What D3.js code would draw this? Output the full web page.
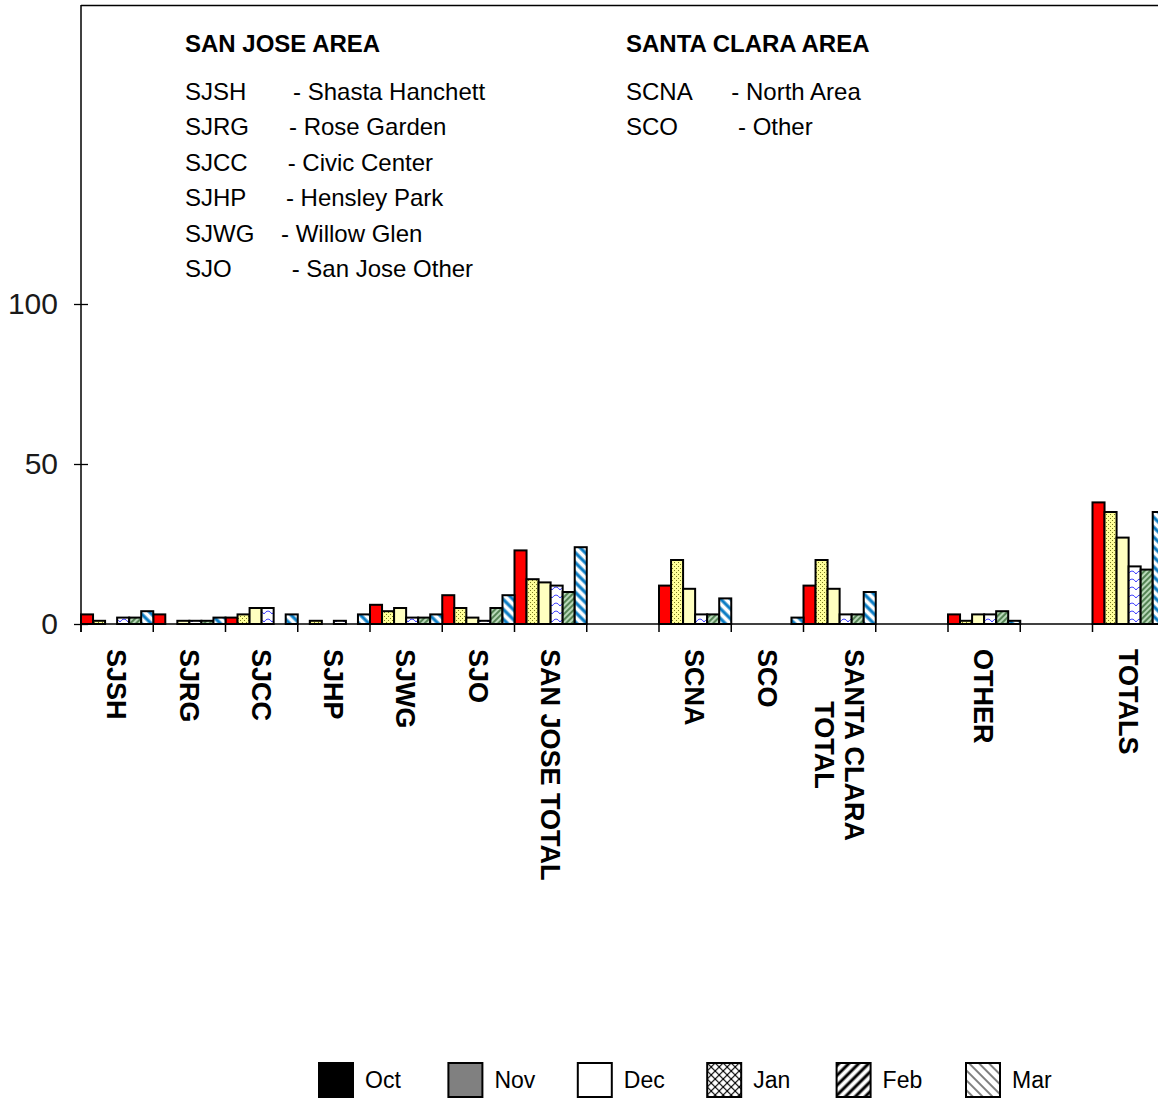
<!DOCTYPE html>
<html>
<head>
<meta charset="utf-8">
<script src="https://cdn.jsdelivr.net/npm/d3@7"></script>
<style>
  body { margin: 0; background: #fff; }
  svg { display: block; font-family: "Liberation Sans", Arial, sans-serif; }
</style>
</head>
<body>
<svg id="chart" width="1158" height="1099"></svg>
<script>
// kategorije i vrijednosti po mjesecima (prazne kategorije = razmak)
const categories = ["SJSH", "SJRG", "SJCC", "SJHP", "SJWG", "SJO", "SAN JOSE TOTAL", "",
    "SCNA", "SCO", "SANTA CLARA\nTOTAL", "", "OTHER", "", "TOTALS"];
const months = ["Oct", "Nov", "Dec", "Jan", "Feb", "Mar"];
const oct = [3, 3, 2, 0, 6, 9, 23, 0, 12, 0, 12, 0, 3, 0, 38];
const nov = [1, 0, 3, 1, 4, 5, 14, 0, 20, 0, 20, 0, 1, 0, 35];
const dec = [0, 1, 5, 0, 5, 2, 13, 0, 11, 0, 11, 0, 3, 0, 27];
const jan = [2, 1, 5, 1, 2, 1, 12, 0, 3, 0, 3, 0, 3, 0, 18];
const feb = [2, 1, 0, 0, 2, 5, 10, 0, 3, 0, 3, 0, 4, 0, 17];
const mar = [4, 2, 3, 3, 3, 9, 24, 0, 8, 2, 10, 0, 1, 0, 35];
const yTicks = [0, 50, 100];

const sanJoseHeader = "SAN JOSE AREA";
const sanJoseLines = ["SJSH       - Shasta Hanchett", "SJRG      - Rose Garden", "SJCC      - Civic Center",
    "SJHP      - Hensley Park", "SJWG    - Willow Glen", "SJO         - San Jose Other"];
const santaClaraHeader = "SANTA CLARA AREA";
const santaClaraLines = ["SCNA      - North Area", "SCO         - Other"];

const series = [oct, nov, dec, jan, feb, mar];

const svg = d3.select('#chart');
const defs = svg.append('defs');

// uzorci za stupce
function pattern(id, size, bg, angle) {
    const p = defs.append('pattern')
        .attr('id', id)
        .attr('patternUnits', 'userSpaceOnUse')
        .attr('width', size)
        .attr('height', size);
    if (angle) p.attr('patternTransform', `rotate(${angle})`);
    p.append('rect').attr('width', size).attr('height', size).attr('fill', bg);
    return p;
}

const pNov = pattern('pNov', 4, '#ffff99');
pNov.append('rect').attr('x', 0).attr('y', 0).attr('width', 1).attr('height', 1).attr('fill', '#7a7a20');
pNov.append('rect').attr('x', 2).attr('y', 2).attr('width', 1).attr('height', 1).attr('fill', '#7a7a20');

const pJan = pattern('pJan', 8, '#ffffff');
pJan.append('path').attr('d', 'M0,6 Q4,0 8,6').attr('fill', 'none').attr('stroke', '#4040ff').attr('stroke-width', 1);

const pFeb = pattern('pFeb', 4, '#b8d8b8', 45);
pFeb.append('line').attr('x1', 1).attr('y1', 0).attr('x2', 1).attr('y2', 4).attr('stroke', '#3c6e3c').attr('stroke-width', 1.6);

const pMar = pattern('pMar', 7, '#ffffff', -45);
pMar.append('line').attr('x1', 2).attr('y1', 0).attr('x2', 2).attr('y2', 7).attr('stroke', '#0a7cc4').attr('stroke-width', 3.2);

// legenda (crno-bijeli uzorci)
const lJan = pattern('lJan', 8, '#ffffff');
lJan.append('path').attr('d', 'M0,0 L8,8 M8,0 L0,8').attr('stroke', '#000').attr('stroke-width', 1.2);
const lFeb = pattern('lFeb', 7, '#ffffff', 45);
lFeb.append('line').attr('x1', 2).attr('y1', 0).attr('x2', 2).attr('y2', 7).attr('stroke', '#000').attr('stroke-width', 3);
const lMar = pattern('lMar', 7, '#ffffff', -45);
lMar.append('line').attr('x1', 2).attr('y1', 0).attr('x2', 2).attr('y2', 7).attr('stroke', '#000').attr('stroke-width', 1);

const barFills = ['#ff0000', 'url(#pNov)', '#ffffc0', 'url(#pJan)', 'url(#pFeb)', 'url(#pMar)'];
const legendFills = ['#000000', '#808080', '#ffffff', 'url(#lJan)', 'url(#lFeb)', 'url(#lMar)'];

const axisX = 81;
const x = d3.scaleBand()
    .domain(d3.range(categories.length))
    .range([axisX, axisX + categories.length * 72.25])
    .padding(0);

const xm = d3.scaleBand()
    .domain(months)
    .range([0, x.bandwidth()])
    .padding(0);

const y = d3.scaleLinear()
    .domain([0, 100])
    .range([624, 304]);

// okvir: gornja linija
svg.append('line')
    .attr('x1', axisX).attr('x2', 1158)
    .attr('y1', 5.5).attr('y2', 5.5)
    .attr('stroke', '#000').attr('stroke-width', 1.5);

// os y
const yAxis = svg.append('g')
    .attr('transform', `translate(${axisX},0)`)
    .call(d3.axisLeft(y).tickValues(yTicks).tickSize(7).tickPadding(16));
yAxis.select('.domain').remove();
yAxis.selectAll('.tick line').attr('x1', 7).attr('stroke', '#000').attr('stroke-width', 1.3);
yAxis.selectAll('.tick text')
    .attr('font-size', 30)
    .attr('font-family', '"Liberation Sans", Arial, sans-serif')
    .attr('fill', '#1a1a1a');

svg.append('line')
    .attr('x1', axisX).attr('x2', axisX)
    .attr('y1', 5).attr('y2', y(0) + 8)
    .attr('stroke', '#000').attr('stroke-width', 1.5);

// stupci
const bars = svg.append('g');
series.forEach((vals, si) => {
    bars.selectAll(null)
        .data(vals.map((v, i) => ({ i, v })).filter(d => d.v > 0))
        .enter()
        .append('rect')
        .attr('x', d => x(d.i) + xm(months[si]))
        .attr('y', d => y(d.v))
        .attr('width', xm.bandwidth())
        .attr('height', d => y(0) - y(d.v))
        .attr('fill', barFills[si])
        .attr('stroke', '#000')
        .attr('stroke-width', 2);
});

// os x
svg.append('line')
    .attr('x1', axisX).attr('x2', 1158)
    .attr('y1', y(0)).attr('y2', y(0))
    .attr('stroke', '#000').attr('stroke-width', 1.5);

svg.append('g').selectAll('line')
    .data(d3.range(categories.length + 1))
    .enter()
    .append('line')
    .attr('x1', i => i < categories.length ? x(i) : x(i - 1) + x.bandwidth())
    .attr('x2', i => i < categories.length ? x(i) : x(i - 1) + x.bandwidth())
    .attr('y1', y(0)).attr('y2', y(0) + 8)
    .attr('stroke', '#000').attr('stroke-width', 1.5);

// nazivi kategorija (okrenuti za 90°)
const labels = svg.append('g').selectAll('g')
    .data(categories.map((c, i) => ({ i, lines: c ? c.split('\n') : [] })))
    .enter()
    .append('g')
    .attr('transform', d => `translate(${x(d.i) + x.bandwidth() / 2},649) rotate(90)`);

labels.each(function(d) {
    const g = d3.select(this);
    const n = d.lines.length;
    const texts = d.lines.map((line, k) => g.append('text')
        .attr('y', (k - (n - 1) / 2) * 30)
        .attr('dy', '0.36em')
        .attr('font-size', 27)
        .attr('font-weight', 'bold')
        .attr('fill', '#000')
        .text(line));
    if (n > 1) {
        const maxLen = d3.max(texts, t => t.node().getComputedTextLength());
        texts.forEach(t => t.attr('x', maxLen / 2).attr('text-anchor', 'middle'));
    }
});

// opis oznaka
function areaBlock(x0, header, lines) {
    const g = svg.append('g');
    g.append('text')
        .attr('x', x0).attr('y', 52)
        .attr('font-size', 24)
        .attr('font-weight', 'bold')
        .text(header);
    g.selectAll('.line')
        .data(lines)
        .enter()
        .append('text')
        .attr('class', 'line')
        .attr('x', x0)
        .attr('y', (d, k) => 100 + k * 35.4)
        .attr('font-size', 24)
        .style('white-space', 'pre')
        .text(d => d);
}
areaBlock(185, sanJoseHeader, sanJoseLines);
areaBlock(626, santaClaraHeader, santaClaraLines);

// legenda
const legend = svg.append('g').selectAll('g')
    .data(months)
    .enter()
    .append('g')
    .attr('transform', (d, i) => `translate(${319 + i * 129.4},1063)`);

legend.append('rect')
    .attr('width', 34).attr('height', 34)
    .attr('fill', (d, i) => legendFills[i])
    .attr('stroke', '#000').attr('stroke-width', 2);

legend.append('text')
    .attr('x', 46).attr('y', 17)
    .attr('dy', '0.36em')
    .attr('font-size', 23)
    .text(d => d);
</script>
</body>
</html>
